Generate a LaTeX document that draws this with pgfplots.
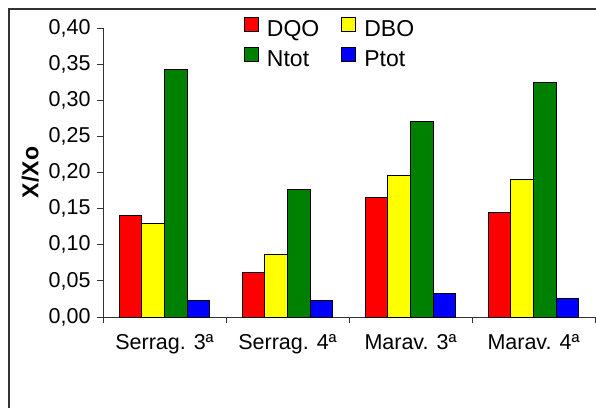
\documentclass[border=0pt]{standalone}
\usepackage{pgfplots}
\pgfplotsset{compat=1.18}
\usepackage{fontspec}
\setmainfont{Liberation Sans}
\definecolor{cred}{RGB}{255,0,0}
\definecolor{cyel}{RGB}{255,255,0}
\definecolor{cgrn}{RGB}{0,128,0}
\definecolor{cblu}{RGB}{0,0,255}
\definecolor{frame}{RGB}{50,50,50}
\pgfplotsset{mylegimg/.style={legend image code/.code={\draw[##1,draw=black,line width=1pt] (0pt,-2pt) rectangle (14pt,12pt);}}}
\begin{document}
\begin{tikzpicture}[x=1pt,y=1pt]
\useasboundingbox (0,0) rectangle (596,407);
\draw[line width=1.3pt, frame] (9,-20) -- (9,398) -- (620,398);
\begin{axis}[
  at={(103pt,90pt)}, anchor=south west,
  scale only axis, width=492pt, height=289pt,
  xmin=-0.5, xmax=3.5, ymin=0, ymax=0.4,
  axis x line*=bottom, axis y line*=left,
  axis line style={line width=1pt, frame},
  ybar=0pt, bar width=22.7pt,
  ytick={0,0.05,0.10,0.15,0.20,0.25,0.30,0.35,0.40},
  yticklabel style={xshift=-3pt, /pgf/number format/.cd, use comma, fixed, fixed zerofill, precision=2, assume math mode=true},
  tick label style={font=\fontsize{21.5}{25}\selectfont},
  tick align=outside, major tick length=6pt,
  tick style={line width=1pt, frame},
  xtick={-0.5,0.5,1.5,2.5,3.5}, xticklabels={},
  extra x ticks={0,1,2,3},
  extra x tick labels={Serrag. 3ª, Serrag. 4ª, Marav. 3ª, Marav. 4ª},
  extra x tick style={major tick length=0pt, xticklabel style={yshift=-14pt}},
  ylabel={X/Xo},
  ylabel style={at={(axis description cs:-0.148,0.5)}, anchor=center, font=\fontsize{23}{27}\selectfont\bfseries},
  legend columns=2,
  legend cell align=left,
  legend style={draw=none, fill=none, at={(axis description cs:0.28,1.046)}, anchor=north west,
    font=\fontsize{23}{27}\selectfont, row sep=7pt,
    /tikz/every odd column/.append style={column sep=6pt},
    /tikz/every even column/.append style={column sep=20pt}},
]
\addplot[fill=cred, draw=black, line width=1pt, mylegimg] coordinates {(0,0.140) (1,0.062) (2,0.165) (3,0.145)};
\addplot[fill=cyel, draw=black, line width=1pt, mylegimg] coordinates {(0,0.130) (1,0.087) (2,0.196) (3,0.190)};
\addplot[fill=cgrn, draw=black, line width=1pt, mylegimg] coordinates {(0,0.342) (1,0.176) (2,0.270) (3,0.324)};
\addplot[fill=cblu, draw=black, line width=1pt, mylegimg] coordinates {(0,0.0235) (1,0.0235) (2,0.033) (3,0.025)};
\legend{DQO, DBO, Ntot, Ptot}
\end{axis}
\end{tikzpicture}
\end{document}
